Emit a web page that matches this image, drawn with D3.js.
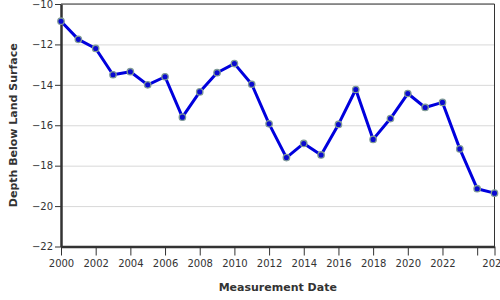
<!DOCTYPE html>
<html>
<head>
<meta charset="utf-8">
<script src="https://cdn.jsdelivr.net/npm/d3@7"></script>
<style>
  body { margin: 0; background: #fff; }
  svg { display: block; font-family: "DejaVu Sans", sans-serif; }
</style>
</head>
<body>
<div id="chart"></div>
<script>
// measurement years and depth below land surface (ft)
var years = [2000, 2001, 2002, 2003, 2004, 2005, 2006, 2007, 2008, 2009,
             2010, 2011, 2012, 2013, 2014, 2015, 2016, 2017, 2018, 2019,
             2020, 2021, 2022, 2023, 2024, 2025];
var depths = [-10.85, -11.75, -12.2, -13.5, -13.35, -14.0, -13.6, -15.6, -14.35, -13.4,
              -12.95, -13.97, -15.93, -17.6, -16.9, -17.47, -15.96, -14.23, -16.7, -15.67,
              -14.43, -15.12, -14.87, -17.17, -19.14, -19.36];
var yTicks = [-22, -20, -18, -16, -14, -12, -10];
var xTicks = [2000, 2002, 2004, 2006, 2008, 2010, 2012, 2014, 2016, 2018, 2020, 2022, 2024, 2025];
var xLabels = ["2000", "2002", "2004", "2006", "2008", "2010", "2012", "2014", "2016", "2018", "2020", "2022", "", "2025"];

var data = years.map(function(y, i) { return {year: y, depth: depths[i]}; });

var margin = {top: 4, right: 5.5, bottom: 53.5, left: 61},
    width = 500 - margin.left - margin.right,
    height = 300 - margin.top - margin.bottom;

var svg = d3.select("#chart").append("svg")
    .attr("width", 500)
    .attr("height", 300);

var g = svg.append("g")
    .attr("transform", "translate(" + margin.left + "," + margin.top + ")");

var x = d3.scaleLinear().domain([2000, 2025]).range([0, width]);
var y = d3.scaleLinear().domain([-22, -10]).range([height, 0]);

// gridlines
g.append("g")
  .selectAll("line")
  .data(yTicks.slice(1))
  .enter().append("line")
    .attr("x1", 0)
    .attr("x2", width)
    .attr("y1", d => y(d) + 0.5)
    .attr("y2", d => y(d) + 0.5)
    .attr("stroke", "#d8d8d8")
    .attr("stroke-width", 1);

// top & right frame
g.append("line")
  .attr("x1", 0).attr("x2", width)
  .attr("y1", 0).attr("y2", 0)
  .attr("stroke", "#333").attr("stroke-width", 1);
g.append("line")
  .attr("x1", width).attr("x2", width)
  .attr("y1", 0).attr("y2", height)
  .attr("stroke", "#333").attr("stroke-width", 1);

var xAxis = d3.axisBottom(x)
  .tickValues(xTicks)
  .tickFormat((d, i) => xLabels[i])
  .tickSize(9)
  .tickPadding(4)
  .tickSizeOuter(0);

var yAxis = d3.axisLeft(y)
  .tickValues(yTicks)
  .tickFormat(d3.format("d"))
  .tickSize(6)
  .tickPadding(2)
  .tickSizeOuter(0);

var gx = g.append("g")
  .attr("transform", "translate(0," + height + ")")
  .call(xAxis);

var gy = g.append("g")
  .call(yAxis);

[gx, gy].forEach(function(a) {
  a.select(".domain").attr("stroke", "#333").attr("stroke-width", 2.5);
  a.selectAll(".tick line").attr("stroke", "#333");
  a.selectAll(".tick text")
    .attr("fill", "#333")
    .style("font-size", "10px")
    .style("font-family", "DejaVu Sans, sans-serif");
});

var line = d3.line()
  .x(d => x(d.year))
  .y(d => y(d.depth));

g.append("path")
  .datum(data)
  .attr("fill", "none")
  .attr("stroke", "#0000dd")
  .attr("stroke-width", 3)
  .attr("stroke-linejoin", "round")
  .attr("d", line);

g.selectAll(".pt")
  .data(data)
  .enter().append("circle")
    .attr("class", "pt")
    .attr("cx", d => x(d.year))
    .attr("cy", d => y(d.depth))
    .attr("r", 3.2)
    .attr("fill", "#0a0ad0")
    .attr("stroke", "#7f9a96")
    .attr("stroke-width", 1.3);

// axis titles
svg.append("text")
  .attr("x", margin.left + width / 2)
  .attr("y", 291)
  .attr("text-anchor", "middle")
  .style("font-size", "11px")
  .style("font-weight", "bold")
  .attr("fill", "#333")
  .text("Measurement Date");

svg.append("text")
  .attr("transform", "translate(17," + (margin.top + height / 2) + ") rotate(-90)")
  .attr("text-anchor", "middle")
  .style("font-size", "11px")
  .style("font-weight", "bold")
  .attr("fill", "#333")
  .text("Depth Below Land Surface");
</script>
</body>
</html>
